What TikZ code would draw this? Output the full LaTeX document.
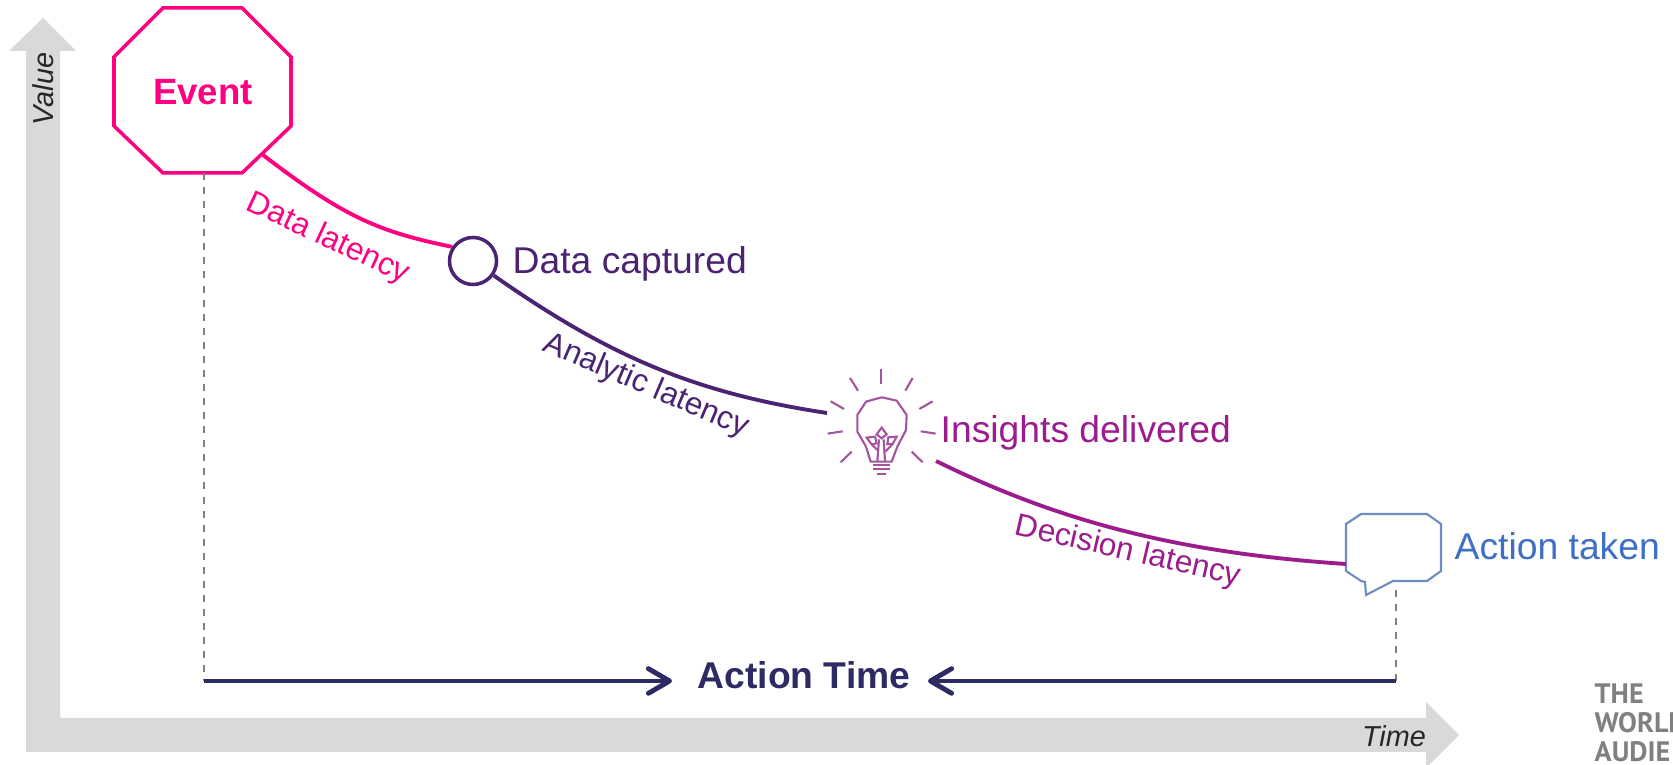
\documentclass[tikz,border=0pt]{standalone}
\usepackage{fontspec}
\setmainfont{Liberation Sans}
\newfontfamily\logofont{PT Sans}
\usetikzlibrary{arrows.meta}
\definecolor{eventpink}{HTML}{FF0080}
\definecolor{dataviolet}{HTML}{4A2472}
\definecolor{insightpurple}{HTML}{9C1C8E}
\definecolor{bulbpurple}{HTML}{A4549F}
\definecolor{actionblue}{HTML}{3F6FC4}
\definecolor{bubbleblue}{HTML}{6C8CC2}
\definecolor{timenavy}{HTML}{2E2A64}
\definecolor{axisgray}{HTML}{D9D9D9}
\tikzset{
  lbl/.style={inner sep=0pt,anchor=base west,font=\fontsize{10.6pt}{12pt}\selectfont},
  slanted/.style={inner sep=0pt,font=\fontsize{9pt}{11pt}\selectfont},
  axislbl/.style={inner sep=0pt,text=black!85,font=\fontsize{8.2pt}{10pt}\selectfont\itshape},
  logolbl/.style={inner sep=0pt,anchor=base west,text=gray,font=\fontsize{8pt}{10pt}\logofont\bfseries},
  latency/.style={line width=1.1pt},
  guide/.style={gray,line width=0.45pt,dash pattern=on 2pt off 2pt},
  timeline/.style={timenavy,line width=1.4pt,-{Straight Barb[round,length=6pt,width=7pt]}}
}
\begin{document}
\begin{tikzpicture}[x=0.01cm,y=-0.01cm]
\useasboundingbox (0,0) rectangle (1673,765);
\clip (0,0) rectangle (1673,765);
% axes
\fill [axisgray] (43,18) -- (76,51) -- (60,51) -- (60,718) -- (1426,718) -- (1426,702) -- (1459,735) -- (1426,768) -- (1426,752) -- (26,752) -- (26,51) -- (9,51) -- cycle;
\node [axislbl,rotate=90,anchor=base] (valuelbl) at (53,89) {Value};
\node [axislbl,anchor=base] (timelbl) at (1394,747) {Time};
% event
\draw [eventpink,line width=1pt] (163,8) -- (242,8) -- (291,57) -- (291,126) -- (242,173) -- (163,173) -- (114,126) -- (114,57) -- cycle;
\node [inner sep=0pt,anchor=base,text=eventpink,font=\fontsize{10.4pt}{12pt}\selectfont\bfseries] (event) at (203,105) {Event};
\coordinate (eventout) at (263,155);
\coordinate (eventbase) at (204,173);
% data captured
\node [circle,draw=dataviolet,line width=1pt,minimum size=0.47cm,inner sep=0pt] (captured) at (473,261) {};
\node [lbl,text=dataviolet] (capturedlbl) at (512,274) {Data captured};
% insights
\coordinate (bulbin) at (827,413);
\coordinate (bulbout) at (936,461);
\begin{scope}[shift={(780,350)},scale=0.3333,bulbpurple,line width=0.6pt]
\draw (304,58) -- (304,103);
\draw (210,84) -- (234,122);
\draw (398,84) -- (376,122);
\draw (152,154) -- (192,177);
\draw (458,154) -- (418,177);
\draw (143,251) -- (188,244);
\draw (467,251) -- (422,244);
\draw (182,337) -- (215,305);
\draw (428,337) -- (395,305);
\draw (305,142) -- (350,152) -- (380,195) -- (378,240) -- (352,290) -- (335,335) -- (272,335) -- (258,290) -- (232,245) -- (232,195) -- (258,155) -- cycle;
\draw (278,345) -- (330,345);
\draw (278,357) -- (330,357);
\draw (292,372) -- (318,372);
\draw (305,233) -- (320,253) -- (305,265) -- (290,253) -- cycle;
\draw (260,263) -- (285,260) -- (290,280) -- (275,283) -- cycle;
\draw (350,260) -- (325,262) -- (322,282) -- (338,282) -- cycle;
\draw (292,335) -- (297,268);
\draw (315,335) -- (311,268);
\draw (275,283) -- (292,300);
\draw (338,282) -- (316,305);
\end{scope}
\node [lbl,text=insightpurple] (insightslbl) at (940,443) {Insights delivered};
% action
\draw [bubbleblue,line width=0.6pt] (1346,524) -- (1361,514) -- (1427,514) -- (1441,524) -- (1441,571) -- (1427,581) -- (1393,581) -- (1366,595) -- (1365,582) -- (1361,581) -- (1346,571) -- cycle;
\coordinate (bubblein) at (1346,564);
\coordinate (bubbletail) at (1396,590);
\node [lbl,text=actionblue] (actionlbl) at (1454,560) {Action taken};
% latency curves
\draw [latency,eventpink] (eventout) .. controls (345,218) and (380,232) .. (captured.146);
\draw [latency,dataviolet] (captured.-35) .. controls (610,357) and (695,393) .. (bulbin);
\draw [latency,insightpurple] (bulbout) .. controls (1060,522) and (1180,553) .. (bubblein);
\node [slanted,text=eventpink,rotate=-25] (datalat) at (328,239) {Data latency};
\node [slanted,text=dataviolet,rotate=-23] (analyticlat) at (646,386) {Analytic latency};
\node [slanted,text=insightpurple,rotate=-13] (decisionlat) at (1128,552) {Decision latency};
% action time
\coordinate (timestart) at (204,681);
\coordinate (timeend) at (1396,681);
\coordinate (tipleft) at (672,681);
\coordinate (tipright) at (928,681);
\draw [guide] (eventbase) -- (timestart);
\draw [guide] (bubbletail) -- (timeend);
\draw [timeline] (timestart) -- (tipleft);
\draw [timeline] (timeend) -- (tipright);
\node [inner sep=0pt,anchor=base,text=timenavy,font=\fontsize{10.6pt}{12pt}\selectfont\bfseries] (actiontime) at (804,689) {Action Time};
% logo
\node [logolbl] (logoa) at (1594,704) {THE};
\node [logolbl] (logob) at (1594,733) {WORLD};
\node [logolbl] (logoc) at (1594,762) {AUDIE};
\end{tikzpicture}
\end{document}
